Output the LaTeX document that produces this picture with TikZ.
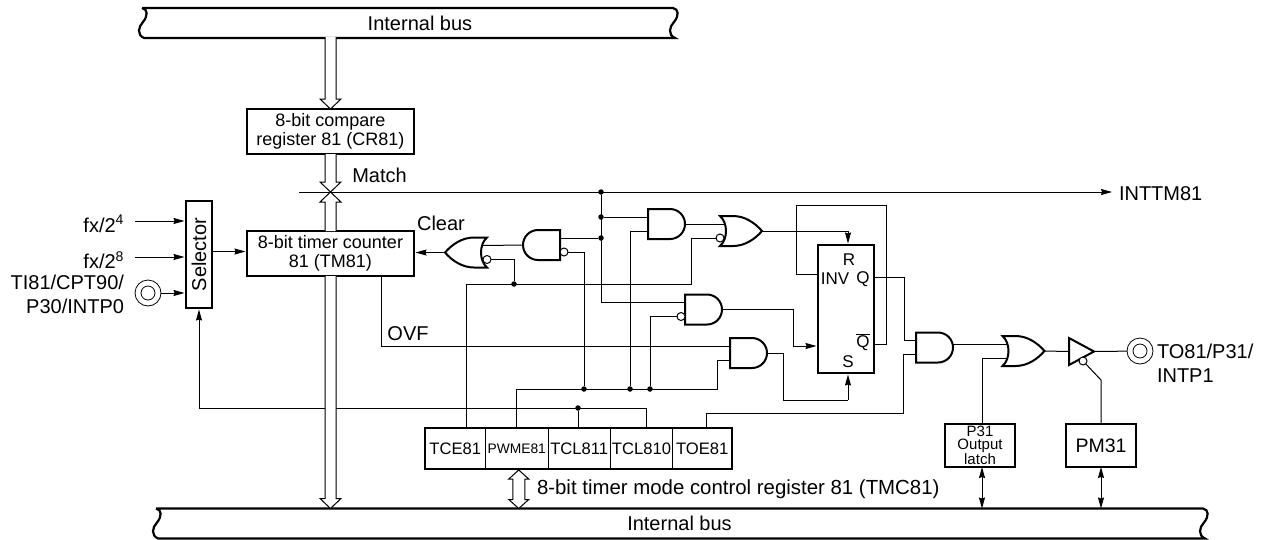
\documentclass[tikz,border=0pt]{standalone}
\usepackage{fontspec}
\setmainfont{Liberation Sans}
\usetikzlibrary{arrows.meta,positioning,calc}

% hollow bus arrow: from, tip, direction (1 down, -1 up)
\newcommand{\hollowarrow}[3]{
  \draw[busarr] ($(#1)+(-5.5,0)$) -- ($(#2)+(-5.5,-10*#3)$) -- ($(#2)+(-10.5,-10*#3)$) -- (#2)
    -- ($(#2)+(10.5,-10*#3)$) -- ($(#2)+(5.5,-10*#3)$) -- ($(#1)+(5.5,0)$);
}

\tikzset{
  gateline/.style={draw, line width=2pt, fill=white},
  andgate/.pic={
    \draw[gateline] (-18.5,-15) -- (3.5,-15) .. controls (11.8,-15) and (18.5,-8.3) .. (18.5,0)
      .. controls (18.5,8.3) and (11.8,15) .. (3.5,15) -- (-18.5,15) -- cycle;
    \coordinate (-in1) at (-18.5,-7);
    \coordinate (-in2) at (-18.5,7);
    \coordinate (-neg) at (-22.5,7);
    \coordinate (-out) at (18.5,0);
  },
  orgate/.pic={
    \draw[gateline] (-21,-15) -- (-8,-15) .. controls (4,-15) and (14,-8) .. (21,0)
      .. controls (14,8) and (4,15) .. (-8,15) -- (-21,15)
      .. controls (-13,8) and (-13,-8) .. (-21,-15) -- cycle;
    \coordinate (-in1) at (-16.5,-7);
    \coordinate (-in2) at (-16.5,7);
    \coordinate (-neg) at (-21,7);
    \coordinate (-out) at (21,0);
  },
  bufgate/.pic={
    \draw[gateline] (-12.5,-13.5) -- (12.5,0) -- (-12.5,13.5) -- cycle;
    \coordinate (-in) at (-12.5,0);
    \coordinate (-out) at (12.5,0);
  }
}

\begin{document}
\begin{tikzpicture}[
    x=1pt, y=-1pt,
    lbl/.style={inner sep=0pt, outer sep=0pt, font=\fontsize{20pt}{24pt}\selectfont},
    ffl/.style={inner sep=0pt, outer sep=0pt, font=\fontsize{17pt}{20pt}\selectfont},
    box/.style={draw, line width=2pt, inner sep=0pt, outer sep=0pt, align=center, fill=white,
                font=\fontsize{18pt}{19pt}\selectfont},
    field/.style={draw, line width=.8pt, inner sep=0pt, outer sep=0pt, minimum height=41pt,
                  font=\fontsize{16.6pt}{18pt}\selectfont},
    busbar/.style={inner sep=0pt, outer sep=0pt, minimum height=30pt, font=\fontsize{20pt}{24pt}\selectfont},
    busedge/.style={line width=2.2pt},
    busarr/.style={line width=1pt, fill=white},
    sig/.style={line width=1pt},
    arr/.style={sig, -{Stealth[length=11pt, width=6pt, inset=1pt]}, shorten >=1.5pt},
    both/.style={sig, {Stealth[length=11pt, width=6pt, inset=1pt]}-{Stealth[length=11pt, width=6pt, inset=1pt]}},
    dot/.style={circle, fill, inner sep=0pt, minimum size=5.5pt},
    bub/.style={circle, draw, line width=1pt, fill=white, inner sep=0pt, outer sep=0pt, minimum size=8pt},
    padring/.style={circle, draw, line width=.8pt, inner sep=0pt, outer sep=0pt, minimum size=26pt},
    padcore/.style={circle, draw, line width=.8pt, inner sep=0pt, minimum size=14pt}
  ]
  \useasboundingbox (0,0) rectangle (1262,539);

  % buses
  \node[busbar, minimum width=531pt] (tbus) at (407.5,23) {\hspace*{25pt}Internal bus};
  \node[busbar, minimum width=1047pt] (bbus) at (679.5,523.5) {Internal bus};
  \foreach \bus in {tbus,bbus}
    \draw[busedge] (\bus.north west) -- (\bus.north east)
      .. controls ([shift={(6,1)}]\bus.north east) and ([shift={(6,8)}]\bus.north east) .. ([shift={(1,14)}]\bus.north east)
      .. controls ([shift={(-4,19)}]\bus.north east) and ([shift={(-5,27)}]\bus.north east) .. ([shift={(2,30)}]\bus.north east)
      -- ([shift={(2,30)}]\bus.north west)
      .. controls ([shift={(-5,27)}]\bus.north west) and ([shift={(-4,19)}]\bus.north west) .. ([shift={(1,14)}]\bus.north west)
      .. controls ([shift={(6,8)}]\bus.north west) and ([shift={(6,1)}]\bus.north west) .. (\bus.north west);

  % compare register, counter, selector
  \node[box, minimum width=167pt, minimum height=45pt] (cr) at (330.5,131.5) {8-bit compare\\register 81 (CR81)};
  \node[box, minimum width=167pt, minimum height=45pt, below=77pt of cr] (timer) {8-bit timer counter\\81 (TM81)};
  \node[box, minimum width=26pt, minimum height=107pt, left=35pt of timer, yshift=-1pt,
        font=\fontsize{20pt}{24pt}\selectfont] (selector) {\rotatebox{90}{Selector}};

  % inputs
  \node[lbl, anchor=east] (fxa) at (124,224) {fx/2\textsuperscript{4}};
  \node[lbl, anchor=east] (fxb) at (124,260) {fx/2\textsuperscript{8}};
  \node[padring] (tipad) at (148,293) {};
  \node[padcore] (ticore) at (tipad) {};
  \node[lbl, align=right, anchor=east] (tilbl) at (124,294) {TI81/CPT90/\\P30/INTP0};
  \draw[arr] ([xshift=11pt,yshift=3pt]fxa.east) -- ([yshift=3pt]fxa.east -| selector.west);
  \draw[arr] ([xshift=11pt,yshift=3pt]fxb.east) -- ([yshift=3pt]fxb.east -| selector.west);
  \draw[arr] (tipad) -- (tipad -| selector.west);
  \draw[arr] ([yshift=2pt]timer.west -| selector.east) -- ([yshift=2pt]timer.west);

  % mode register
  \node[field, minimum width=60.5pt, anchor=north west] (rtce) at (425,428) {TCE81};
  \node[field, minimum width=62.5pt, right=0pt of rtce, font=\fontsize{13.8pt}{16pt}\selectfont] (rpwme) {PWME81};
  \node[field, minimum width=62.5pt, right=0pt of rpwme] (rtclh) {TCL811};
  \node[field, minimum width=62pt, right=0pt of rtclh] (rtcll) {TCL810};
  \node[field, minimum width=59.5pt, right=0pt of rtcll] (rtoe) {TOE81};
  \draw[line width=2pt] (rtce.north west) rectangle (rtoe.south east);

  % gates
  \pic[xscale=-1] (andclr) at (541.5,245) {andgate};
  \pic[xscale=-1] (orclr) at (466,252.5) {orgate};
  \pic (andrst) at (666.5,224) {andgate};
  \pic (orrst) at (741,231) {orgate};
  \pic (andinv) at (703.5,309.5) {andgate};
  \pic (andset) at (748.5,353) {andgate};
  \pic (andout) at (934.5,347.5) {andgate};
  \pic (orout) at (1023.5,351) {orgate};
  \pic (bufout) at (1081.5,351.5) {bufgate};
  \node[bub] (andclrneg) at (andclr-neg) {};
  \node[bub] (orclrneg) at (orclr-neg) {};
  \node[bub] (orrstneg) at (orrst-neg) {};
  \node[bub] (andinvneg) at (andinv-neg) {};
  \node[bub] (enbub) at (1083,361) {};

  % flip-flop
  \node[box, minimum width=56pt, minimum height=128pt] (fflop) at (846,309) {};
  \node[ffl] (ffr) at (849,260) {R};
  \node[ffl] (ffinv) at (835,279) {INV};
  \node[ffl] (ffq) at (863,279) {Q};
  \node[ffl] (ffnq) at (863,342) {$\overline{\mbox{Q}}$};
  \node[ffl] (ffs) at (848,362) {S};

  % output side
  \node[box, minimum width=70pt, minimum height=43pt, font=\fontsize{15pt}{13pt}\selectfont] (latch) at (980,445.5) {P31\\Output\\latch};
  \node[box, minimum width=70pt, minimum height=43pt, right=51pt of latch, font=\fontsize{19.5pt}{22pt}\selectfont] (pmbox) {PM31};
  \node[padring] (topad) at (1140,351) {};
  \node[padcore] (tocore) at (topad) {};
  \node[lbl, align=left, anchor=west] (tolbl) at (1157,363) {TO81/P31/\\INTP1};
  \node[lbl, anchor=west] (inttm) at (1119,194) {INTTM81};

  % texts on the wires
  \node[lbl] (matchlbl) at (379.5,175) {Match};
  \node[lbl] (clearlbl) at (441,223) {Clear};
  \node[lbl] (ovflbl) at (408,334) {OVF};
  \node[lbl, anchor=west, font=\fontsize{20.4pt}{24pt}\selectfont] (tmclbl) at (537,489) {8-bit timer mode control register 81 (TMC81)};

  % match line and its branches
  \coordinate (matchl) at (299,192);
  \coordinate (matchx) at (cr.south |- matchl);
  \node[dot] (dottop) at (601,192) {};
  \node[dot] (dotmid) at (dottop |- andrst-in1) {};
  \node[dot] (dotnet) at (dottop |- andclr-in1) {};
  \draw[sig] (dottop) |- (andinv-in1);
  \draw[sig] (dotmid) -- (andrst-in1);
  \draw[sig] (andclr-in1) -- (dotnet);
  \draw[sig] (andclr-out) -- (orclr-in1);
  \draw[arr] (orclr-out) -- (orclr-out -| timer.east);
  \draw[sig] (andrst-out) -- (orrst-in1);

  % mode register outputs
  \coordinate (tcecor) at (691,284);
  \node[dot] (dotclr) at (514,284) {};
  \draw[sig] ([xshift=11pt]rtce.north) |- (tcecor) |- (orrstneg);
  \draw[sig] (dotclr) |- (orclrneg);
  \coordinate (pwmcor) at (717,389);
  \node[dot] (dotpa) at (584,389) {};
  \node[dot] (dotpb) at (630,389) {};
  \node[dot] (dotpc) at (650,389) {};
  \draw[sig] (rpwme.north) |- (pwmcor) |- (andset-in2);
  \draw[sig] (dotpa) |- (andclrneg);
  \draw[sig] (dotpb) |- (andrst-in2);
  \draw[sig] (dotpc) |- (andinvneg);
  \node[dot] (dotfb) at (578,408) {};
  \draw[arr] ([xshift=4.5pt]rtcll.north) -- ++(0,-20) -| (selector.south);
  \draw[sig] (dotfb) -- (dotfb |- rtclh.north);
  \draw[sig] ([xshift=50.5pt]timer.south) |- (andset-in1);

  % flip-flop wiring
  \draw[arr] (orrst-out) -| ([xshift=2pt]fflop.north);
  \draw[arr] (andinv-out) -- ++(71,0) |- ([yshift=-37pt]fflop.west);
  \draw[sig] (andset-out) -- ++(16,0) |- ([xshift=2pt,yshift=-27pt]fflop.south);
  \draw[arr] ([xshift=2pt,yshift=-27pt]fflop.south) -- ([xshift=2pt]fflop.south);
  \coordinate (loopcor) at (886,205);
  \draw[sig] ([yshift=35pt]fflop.west) -- ++(-22,0) |- (loopcor) |- ([yshift=-35pt]fflop.east);
  \draw[sig] ([yshift=32pt]fflop.east) -- ++(30,0) |- (andout-in1);
  \draw[sig] ([xshift=4pt]rtoe.north) -- ++(0,-15) -- ++(197,0) |- (andout-in2);

  % output path
  \draw[sig] (andout-out |- orout-in1) -- (orout-in1);
  \draw[sig] ([xshift=2pt]latch.north) |- (orout-in2);
  \draw[sig] (orout-out) -- (bufout-in);
  \draw[sig] (bufout-out) -- (topad);
  \draw[sig] (pmbox.north) -- ++(0,-44) -- (enbub);
  \draw[both] ([xshift=2pt]latch.south) -- ([xshift=2pt]latch.south |- bbus.north);
  \draw[both] (pmbox.south) -- (pmbox.south |- bbus.north);

  % hollow bus arrows
  \coordinate (busstart) at ([yshift=1pt]cr.north |- tbus.south);
  \hollowarrow{busstart}{cr.north}{1}
  \hollowarrow{cr.south}{matchx}{1}
  \hollowarrow{timer.north}{matchx}{-1}
  \coordinate (bustip) at (timer.south |- bbus.north);
  \hollowarrow{timer.south}{bustip}{1}
  \draw[arr, shorten >=7pt] (matchl) -- (inttm.west |- matchl);
  \coordinate (modetop) at ([xshift=2pt,yshift=-1pt]rpwme.south);
  \coordinate (modebot) at (modetop |- bbus.north);
  \draw[busarr] (modetop) -- ++(10,9) -- ++(-4,0) -- ($(modebot)+(6,-9)$) -- ++(4,0) -- (modebot)
    -- ++(-10,-9) -- ++(4,0) -- ($(modetop)+(-6,9)$) -- ++(-4,0) -- cycle;
\end{tikzpicture}
\end{document}
